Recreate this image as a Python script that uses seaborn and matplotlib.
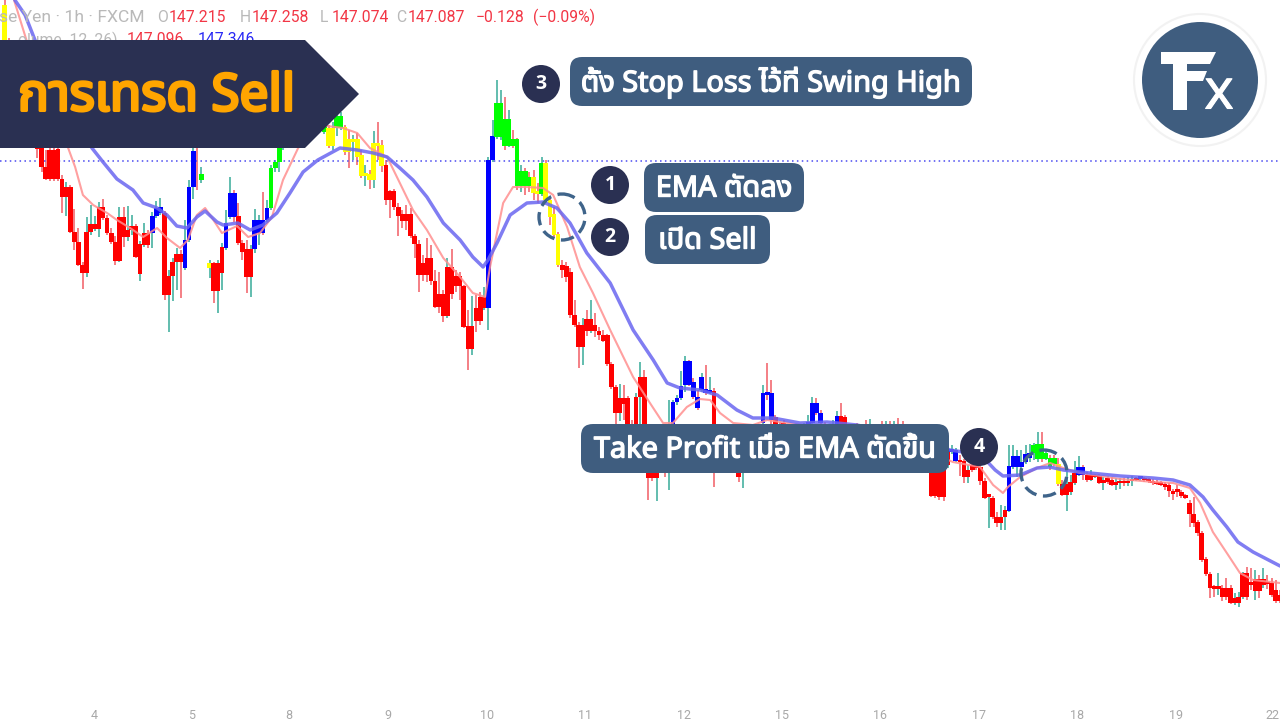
import numpy as np
import pandas as pd
import matplotlib
matplotlib.use("Agg")
import matplotlib.pyplot as plt
import matplotlib.font_manager as fm
import matplotlib.patheffects as pe
from matplotlib.ft2font import FT2Font
from matplotlib.patches import FancyBboxPatch, Circle, Polygon
import seaborn as sns

# ---------- data ----------
hours = [h for h in range(1, 313) if h != 50]

opens = [
152.95,152.60,152.00,151.88,151.80,151.92,151.75,151.68,151.60,151.55,
151.33,151.50,151.50,151.51,151.21,151.03,151.13,150.68,150.58,150.35,
150.27,150.68,150.71,150.71,150.93,150.82,150.67,150.58,150.39,150.83,
150.63,150.70,150.74,150.26,150.55,150.67,150.67,150.84,150.87,150.87,
150.05,150.24,150.38,150.46,150.32,150.60,151.13,151.75,151.20,150.32,
150.37,150.09,150.27,150.52,150.83,151.07,150.84,150.57,150.51,150.23,
150.51,150.67,150.80,150.80,150.92,151.32,151.38,151.52,151.60,151.65,
151.70,151.72,151.78,151.82,151.75,151.80,151.75,151.68,151.72,151.54,
151.72,151.72,151.73,151.61,151.58,151.61,151.45,151.24,151.26,151.20,
151.57,151.55,151.35,151.09,151.09,150.93,150.86,150.86,150.86,150.64,
150.56,150.37,150.42,150.42,150.19,150.06,150.06,149.84,150.33,150.24,
150.24,150.14,149.74,149.51,149.92,150.03,149.92,149.92,151.40,151.63,
151.63,151.81,151.54,151.61,151.61,151.14,151.29,151.23,151.23,151.08,
151.06,151.37,151.00,150.86,150.66,150.35,150.34,150.28,149.85,149.75,
149.53,149.81,149.69,149.75,149.69,149.65,149.65,149.36,149.13,148.87,
149.02,149.02,148.75,148.60,149.03,149.23,148.55,148.35,148.22,148.40,
148.50,148.40,148.75,148.98,149.02,149.15,149.39,149.18,149.03,149.10,
149.11,149.07,149.09,148.70,148.55,148.50,148.60,148.45,148.35,148.30,
148.38,148.45,148.55,148.60,148.77,149.07,149.07,148.83,148.76,148.77,
148.70,148.65,148.70,148.68,148.72,148.75,148.77,148.97,148.87,148.75,
148.70,148.72,148.75,148.84,148.83,148.70,148.68,148.72,148.69,148.71,
148.68,148.70,148.67,148.69,148.67,148.69,148.68,148.76,148.70,148.65,
148.62,148.58,148.55,148.50,148.45,148.35,148.30,148.30,148.40,148.35,
148.48,148.39,148.40,148.39,148.23,148.35,148.35,148.33,148.19,148.03,
148.02,147.83,147.77,147.83,147.89,148.33,148.33,148.33,148.38,148.42,
148.47,148.41,148.56,148.41,148.42,148.42,148.36,148.16,148.05,148.08,
148.17,148.25,148.33,148.25,148.20,148.23,148.24,148.17,148.22,148.20,
148.15,148.17,148.18,148.17,148.19,148.20,148.21,148.21,148.20,148.19,
148.18,148.17,148.16,148.15,148.09,148.10,148.08,148.05,147.97,147.86,
147.78,147.67,147.41,147.26,147.12,147.11,147.12,147.12,147.12,146.97,
146.97,147.03,147.27,147.17,147.09,147.21,147.15,147.17,147.17,147.10,147.05]

closes = [
152.60,152.00,151.88,151.80,151.92,151.75,151.68,151.60,151.51,151.33,
151.21,151.21,151.21,151.21,151.03,151.13,150.68,150.58,150.35,150.27,
150.68,150.76,150.76,150.93,150.82,150.67,150.58,150.39,150.83,150.63,
150.70,150.74,150.43,150.56,150.67,150.55,150.84,150.92,150.93,150.05,
150.24,150.38,150.46,150.38,150.60,151.13,151.49,151.60,151.26,150.37,
150.09,150.37,150.53,150.77,151.07,150.83,150.57,150.48,150.23,150.51,
150.80,150.80,150.67,150.92,151.32,151.38,151.52,151.60,151.65,151.70,
151.72,151.78,151.82,151.75,151.80,151.84,151.70,151.76,151.54,151.72,
151.84,151.84,151.48,151.48,151.61,151.43,151.24,151.26,151.20,151.57,
151.54,151.34,151.00,151.00,150.93,150.84,150.79,150.79,150.64,150.56,
150.25,150.25,150.25,150.19,149.93,149.93,149.84,150.33,150.06,150.14,
150.14,149.73,149.51,149.74,149.79,149.79,150.03,151.40,151.64,151.97,
151.97,151.54,151.81,151.54,151.14,151.29,151.14,151.14,151.07,151.06,
151.37,151.00,150.83,150.65,150.35,150.30,150.23,149.85,149.75,149.53,
149.75,149.69,149.81,149.69,149.65,149.59,149.36,149.13,148.87,149.02,
148.96,148.70,148.60,149.03,149.23,148.70,148.22,148.22,148.27,148.50,
148.40,148.55,148.98,149.02,149.14,149.39,149.15,149.03,148.92,149.23,
149.07,149.10,148.70,148.55,148.50,148.60,148.45,148.35,148.23,148.38,
148.45,148.55,148.60,148.70,149.07,149.05,148.80,148.76,148.72,148.68,
148.65,148.70,148.68,148.72,148.75,148.77,148.97,148.87,148.77,148.70,
148.72,148.75,148.84,148.76,148.70,148.68,148.72,148.69,148.71,148.68,
148.70,148.67,148.69,148.67,148.69,148.68,148.76,148.70,148.65,148.62,
148.58,148.55,148.50,148.45,148.35,148.04,148.04,148.03,148.03,148.50,
148.51,148.50,148.38,148.23,148.30,148.30,148.32,148.19,148.02,148.03,
147.83,147.77,147.83,147.90,148.34,148.44,148.44,148.38,148.46,148.47,
148.55,148.56,148.41,148.47,148.33,148.36,148.16,148.05,148.16,148.18,
148.27,148.33,148.25,148.20,148.25,148.24,148.17,148.20,148.18,148.15,
148.17,148.18,148.17,148.19,148.20,148.22,148.22,148.20,148.19,148.17,
148.16,148.15,148.13,148.09,148.06,148.08,148.04,148.02,147.86,147.77,
147.67,147.40,147.26,147.12,147.11,147.12,147.03,147.03,146.97,147.02,
147.03,147.27,147.03,147.15,147.21,147.09,147.21,147.16,147.05,146.99,146.99]

highs = [
153.00,152.62,152.02,151.90,151.94,151.94,151.80,151.70,151.65,151.60,
151.50,151.52,151.52,151.53,151.25,151.18,151.15,150.91,150.72,150.38,
150.83,150.95,150.84,150.98,151.01,150.85,150.72,150.64,150.93,150.93,
150.94,150.85,150.76,150.59,150.77,150.70,150.88,150.99,151.02,150.89,
150.30,150.42,150.52,150.50,150.80,151.20,151.55,151.80,151.33,150.40,
150.38,150.40,150.57,150.90,151.23,151.10,150.97,150.60,150.60,150.55,
150.91,150.85,151.08,151.00,151.35,151.40,151.60,151.65,151.70,151.75,
151.78,151.82,151.88,151.88,151.85,151.90,151.85,151.82,151.75,151.78,
151.92,151.88,151.75,151.70,151.65,151.67,151.50,151.35,151.30,151.69,
151.78,151.60,151.40,151.10,151.11,150.97,150.90,150.95,150.92,150.66,
150.60,150.45,150.62,150.55,150.30,150.28,150.10,150.42,150.51,150.30,
150.28,150.15,149.90,150.04,150.05,150.08,150.13,151.43,151.80,152.20,
152.10,152.03,151.90,151.70,151.62,151.35,151.32,151.28,151.30,151.17,
151.43,151.40,151.02,150.93,150.68,150.40,150.38,150.32,150.00,149.78,
149.82,149.90,150.00,149.87,149.73,149.70,149.66,149.38,149.15,149.16,
149.15,149.04,148.80,149.07,149.38,149.30,148.60,148.40,148.35,148.55,
148.70,149.00,149.00,149.05,149.29,149.44,149.40,149.22,149.10,149.27,
149.35,149.23,149.12,148.72,148.60,148.64,148.62,148.50,148.40,148.50,
148.50,148.58,148.64,148.75,149.15,149.37,149.20,148.85,148.78,148.80,
148.72,148.74,148.73,148.75,148.77,148.85,149.03,149.02,148.90,148.78,
148.76,148.80,148.89,148.97,148.85,148.75,148.76,148.77,148.75,148.80,
148.81,148.74,148.76,148.79,148.79,148.79,148.79,148.82,148.79,148.70,
148.66,148.62,148.60,148.55,148.50,148.40,148.35,148.35,148.45,148.55,
148.55,148.52,148.45,148.41,148.35,148.40,148.38,148.35,148.22,148.04,
148.04,147.88,147.95,147.94,148.55,148.55,148.50,148.50,148.55,148.56,
148.57,148.68,148.68,148.50,148.45,148.45,148.42,148.20,148.30,148.25,
148.39,148.44,148.35,148.28,148.30,148.26,148.26,148.23,148.24,148.23,
148.22,148.22,148.22,148.23,148.24,148.23,148.24,148.23,148.22,148.21,
148.20,148.19,148.18,148.17,148.11,148.15,148.10,148.06,148.00,148.03,
147.80,147.69,147.43,147.28,147.15,147.27,147.15,147.22,147.15,147.07,
147.08,147.28,147.33,147.32,147.30,147.25,147.32,147.25,147.22,147.20,147.10]

lows = [
152.58,151.95,151.86,151.78,151.77,151.74,151.66,151.55,151.42,151.28,
151.20,151.19,151.19,151.19,150.87,150.84,150.67,150.50,150.34,150.11,
150.23,150.65,150.69,150.63,150.80,150.65,150.56,150.35,150.38,150.53,
150.59,150.65,150.42,150.19,150.53,150.52,150.52,150.82,150.85,150.00,
149.68,149.99,150.10,150.02,150.30,150.58,151.01,151.10,151.17,150.22,
149.97,149.87,150.10,150.50,150.81,150.78,150.55,150.40,150.07,150.03,
150.47,150.55,150.65,150.78,150.90,151.28,151.28,151.50,151.55,151.60,
151.65,151.70,151.75,151.72,151.73,151.75,151.68,151.66,151.52,151.50,
151.64,151.70,151.45,151.32,151.40,151.35,151.22,151.14,151.11,151.12,
151.40,151.28,150.95,150.82,150.90,150.64,150.72,150.70,150.62,150.42,
150.08,150.19,150.18,150.15,149.92,149.87,149.78,149.82,150.01,150.08,
150.00,149.72,149.30,149.45,149.68,149.75,149.90,149.70,151.38,151.61,
151.60,151.50,151.53,151.52,151.10,151.08,151.05,151.08,151.00,150.97,
151.04,150.98,150.75,150.63,150.33,150.22,150.18,149.82,149.73,149.32,
149.35,149.64,149.67,149.63,149.60,149.58,149.34,149.11,148.75,148.79,
148.80,148.60,148.55,148.58,148.55,148.50,148.00,148.19,147.99,148.28,
148.23,148.10,148.70,148.95,149.00,149.08,149.14,149.01,148.90,149.08,
149.05,149.06,148.13,148.52,148.48,148.48,148.42,148.32,148.18,148.12,
148.35,148.42,148.52,148.55,148.70,149.00,148.75,148.60,148.68,148.65,
148.62,148.63,148.65,148.66,148.70,148.72,148.75,148.85,148.70,148.68,
148.67,148.69,148.72,148.70,148.65,148.64,148.66,148.67,148.66,148.65,
148.66,148.64,148.64,148.64,148.65,148.65,148.66,148.68,148.63,148.60,
148.56,148.52,148.48,148.42,148.30,148.03,148.02,148.00,147.99,148.32,
148.46,148.38,148.24,148.17,148.17,148.28,148.30,148.15,148.01,147.72,
147.81,147.73,147.70,147.70,147.88,148.31,148.23,148.31,148.36,148.38,
148.40,148.38,148.38,148.40,148.30,148.34,148.14,148.04,147.89,148.05,
148.15,148.24,148.20,148.18,148.19,148.22,148.16,148.10,148.16,148.14,
148.10,148.11,148.14,148.14,148.14,148.19,148.19,148.18,148.17,148.15,
148.15,148.14,148.10,148.03,148.00,148.03,148.02,148.01,147.73,147.73,
147.64,147.38,147.24,147.02,147.03,147.05,146.99,147.00,146.96,146.95,
146.93,147.01,147.00,147.10,147.00,147.02,147.12,147.11,147.03,146.97,146.97]

zone_lengths = [1,35,3,5,3,2,1,3,3,4,4,14,2,2,10,25,2,9,2,1,4,27,10,12,3,7,5,3,1,13,2,12,2,12,6,6,1,4,2,13,1,34]
zone_names = ["y","r","b","r","b","g","y","r","b","r","b","g","y","g","y","r","b","g","y","g","y",
              "r","b","r","b","r","b","r","b","r","b","r","b","r","b","g","y","r","b","r","b","r"]

slow_hours = [3.5,6.0,8.4,22.3,25.0,28.4,32.3,34.8,38.2,40.6,43.0,45.5,47.9,49.9,52.8,54.3,57.9,60.9,64.0,67.4,
70.6,73.8,77.4,82.8,87.0,90.9,94.3,97.4,100.6,104.0,108.0,112.1,115.2,117.7,118.9,121.1,124.3,128.4,132.3,135.7,
138.9,143.0,148.7,154.3,159.2,162.6,165.7,170.6,174.8,179.6,183.5,188.4,195.0,201.6,208.9,219.4,226.7,231.6,234.8,239.6,
242.6,244.5,248.7,252.8,256.0,259.2,263.3,273.1,281.1,286.0,290.1,293.3,295.7,299.1,301.8,305.5,312.1]
slow_ema = [153.00,152.85,152.60,151.52,151.38,151.21,151.10,150.97,150.92,150.85,150.74,150.72,150.83,150.89,150.78,150.75,150.77,150.70,150.75,150.87,
151.07,151.28,151.40,151.52,151.50,151.47,151.43,151.32,151.20,151.03,150.77,150.60,150.43,150.33,150.40,150.57,150.85,150.97,150.98,150.92,
150.77,150.47,150.17,149.70,149.40,149.17,149.12,149.10,149.05,148.90,148.82,148.82,148.77,148.78,148.75,148.65,148.57,148.50,148.48,148.43,
148.30,148.24,148.25,148.32,148.33,148.30,148.28,148.24,148.22,148.20,148.15,148.03,147.90,147.73,147.58,147.48,147.34]

fast_hours = [3.3,6.7,16.5,18.2,20.1,22.6,26.0,28.4,31.6,34.8,38.2,40.6,43.8,45.7,47.9,49.9,51.6,54.0,57.7,60.4,
63.3,66.2,68.9,72.6,77.9,83.5,87.0,90.1,94.3,97.4,100.6,104.0,108.0,112.1,115.2,118.2,119.4,122.6,125.0,128.4,
132.3,134.8,138.2,141.3,144.5,148.7,154.3,158.4,161.6,164.0,167.4,170.6,173.1,175.5,178.7,183.5,187.0,190.1,204.8,219.4,
232.3,238.9,242.1,244.5,245.7,248.7,252.8,256.0,259.2,263.3,273.1,281.1,286.0,290.1,292.6,295.7,299.1,302.3,305.5,312.1]
fast_ema = [153.00,152.55,151.52,151.33,151.05,150.95,150.87,150.80,150.72,150.63,150.72,150.62,150.52,150.60,150.85,150.92,150.82,150.67,150.74,150.63,
150.67,150.83,151.20,151.52,151.75,151.72,151.67,151.52,151.43,151.17,150.90,150.70,150.42,150.23,150.07,150.03,150.33,150.97,151.13,151.13,
151.12,151.05,150.73,150.33,150.07,149.70,149.23,148.97,148.77,148.77,148.93,149.01,149.00,148.87,148.77,148.75,148.80,148.78,148.70,148.60,
148.38,148.33,148.15,148.07,148.13,148.23,148.32,148.37,148.32,148.27,148.21,148.18,148.17,148.12,147.97,147.68,147.47,147.27,147.20,147.17]

reference_price = 151.39
tick_hours = [22.8,46.6,70.3,94.5,118.7,142.6,166.7,190.6,214.6,238.7,262.6,286.7,310.3]
tick_labels = ["4","5","8","9","10","11","12","15","16","17","18","19","22"]

header_gray = "se Yen · 1h · FXCM"
header_values = ["147.215","147.258","147.074","147.087"]
header_keys = ["O","H","L","C"]
header_change = "−0.128"
header_pct = "(−0.09%)"
ema_title = "olume  12, 26)"
ema_last = ["147.096","147.346"]

title_text = "การเทรด Sell"
step_texts = ["EMA ตัดลง","เปิด Sell","ตั้ง Stop Loss ไว้ที่ Swing High","Take Profit เมื่อ EMA ตัดขึ้น"]
step_numbers = ["1","2","3","4"]

assert len(hours)==len(opens)==len(closes)==len(highs)==len(lows)==sum(zone_lengths)
assert len(zone_names)==len(zone_lengths)
assert len(slow_hours)==len(slow_ema) and len(fast_hours)==len(fast_ema)

# ---------- fonts ----------
sns.set_theme(style="white")
def find_thai():
    for name in ["Noto Sans Thai","Noto Sans Thai UI","Noto Sans","Open Sans","Roboto","Lato","Inter","DejaVu Sans"]:
        try:
            p = fm.findfont(fm.FontProperties(family=name), fallback_to_default=False)
            cmap = FT2Font(p).get_charmap()
            if 0x0E01 in cmap and 0x0041 in cmap:
                return name
        except Exception:
            pass
    for f in fm.fontManager.ttflist:
        try:
            cmap = FT2Font(f.fname).get_charmap()
            if 0x0E01 in cmap and 0x0041 in cmap:
                return f.name
        except Exception:
            pass
    return "DejaVu Sans"
thai = find_thai()
plt.rcParams["font.family"] = [thai, "Open Sans", "DejaVu Sans"]

# ---------- figure ----------
W, H = 1280, 720
fig = plt.figure(figsize=(W/100, H/100), dpi=100, facecolor="white")
ax = fig.add_axes([0, 14/H, 1, 706/H])
ax.set_facecolor("white")
ax.set_xlim(-0.122, 312.07)
ax.set_ylim(153.0 - 7.06, 153.0)

df = pd.DataFrame({"hour": hours, "open": opens, "close": closes, "high": highs, "low": lows,
                   "zone": np.repeat(zone_names, zone_lengths)})
zone_colors = {"r": "#ff0000", "b": "#0000ff", "g": "#00ff00", "y": "#ffff00"}
up = df["close"] >= df["open"]
ax.vlines(df["hour"], df["low"], df["high"],
          colors=np.where(up, "#3fae9c", "#f2636b"), linewidth=1.15, zorder=2)
ax.bar(df["hour"], (df["close"]-df["open"]).abs().clip(lower=0.025),
       bottom=df[["open","close"]].min(axis=1), width=1.15,
       color=df["zone"].map(zone_colors), linewidth=0, zorder=3)

sns.lineplot(x=fast_hours, y=fast_ema, ax=ax, color="#ff8f8f", linewidth=1.5, alpha=0.85, zorder=4,
             estimator=None, sort=False, solid_joinstyle="round")
sns.lineplot(x=slow_hours, y=slow_ema, ax=ax, color="#6a66f0", linewidth=2.5, alpha=0.85, zorder=4,
             estimator=None, sort=False, solid_joinstyle="round")
ax.axhline(reference_price, color="#4a4af0", linewidth=1.1, linestyle=(0, (1, 2.2)), zorder=2)

ax.set_xticks(tick_hours)
ax.set_xticklabels(tick_labels, color="#a8a8a8", fontsize=9, family="Roboto")
ax.set_yticks([])
ax.tick_params(axis="x", length=0, pad=2)
ax.set_xlabel(""); ax.set_ylabel("")
for s in ax.spines.values():
    s.set_visible(False)

# ---------- overlay annotations ----------
ov = fig.add_axes([0, 0, 1, 1], facecolor="none")
ov.set_xlim(0, W); ov.set_ylim(H, 0); ov.axis("off")

GRAY, RED, BLUE = "#b9b9b9", "#f23645", "#2a2af5"
hd = dict(fontsize=11.3, family="Roboto", va="center", ha="left", zorder=1)
ov.text(-1, 17, header_gray, color=GRAY, **{**hd, "fontsize": 12.6})
for x, k, v in zip([157, 240, 320, 396], header_keys, header_values):
    ov.text(x, 17, k, color=GRAY, **hd)
    ov.text(x+12, 17, v, color=RED, **hd)
ov.text(476, 17, header_change, color=RED, **hd)
ov.text(533, 17, header_pct, color=RED, **hd)
ov.text(18, 40, ema_title, color=GRAY, **hd)
ov.text(127, 40, ema_last[0], color=RED, **hd)
ov.text(198, 40, ema_last[1], color=BLUE, **hd)

NAVY, SLATE, RING = "#2a3052", "#3f5d7f", "#3f648a"
def heavy(width, color):
    return [pe.withStroke(linewidth=width, foreground=color)]

ov.add_patch(Polygon([(0,40),(305,40),(359,94),(305,148),(0,148)], closed=True, fc=NAVY, ec="none", zorder=5))
ov.text(18, 97, title_text, color="#ffa500", fontsize=37, va="center", ha="left", zorder=6,
        family=[thai], path_effects=heavy(2.2, "#ffa500"))

boxes = [(644,163,160,49),(645,215,125,49),(570,57,402,49),(581,424,368,49)]
for (x,y,w,h),t in zip(boxes, step_texts):
    r = 12
    ov.add_patch(FancyBboxPatch((x+r,y+r), w-2*r, h-2*r, boxstyle=f"round,pad={r},rounding_size={r}",
                                fc=SLATE, ec="none", zorder=5))
    ov.text(x+w/2, y+h/2+1.5, t, color="white", fontsize=20.8, va="center", ha="center", zorder=6,
            family=[thai], path_effects=heavy(1.0, "white"))

for (cx,cy),n in zip([(610,185),(610,237),(541,84),(979,447)], step_numbers):
    ov.add_patch(Circle((cx,cy), 19, fc=NAVY, ec="none", zorder=5))
    ov.text(cx, cy, n, color="white", fontsize=14, fontweight="bold", family="Open Sans",
            va="center", ha="center", zorder=6)

for cx,cy in [(562,217),(1044,473)]:
    ov.add_patch(Circle((cx,cy), 23, fc="none", ec=RING, lw=2.4, ls=(0,(4,2)), zorder=5))

# logo
ov.add_patch(Circle((1200,80), 66, fc="white", ec="#f2f2f2", lw=1.5, zorder=5))
ov.add_patch(Circle((1200,80), 58, fc=SLATE, ec="none", zorder=5))
ov.add_patch(Polygon([(1161,52),(1216,52),(1210,64),(1187,64),(1187,71),(1207,71),(1203,81),(1187,81),(1187,110),(1173,110),(1173,64),(1161,64)],
                     closed=True, fc="white", ec="none", zorder=6))
ov.text(1219, 94, "x", color="white", fontsize=40, family="Open Sans", va="center", ha="center", zorder=6,
        path_effects=heavy(0.8, "white"))

fig.savefig("out.png", dpi=100, facecolor="white")
